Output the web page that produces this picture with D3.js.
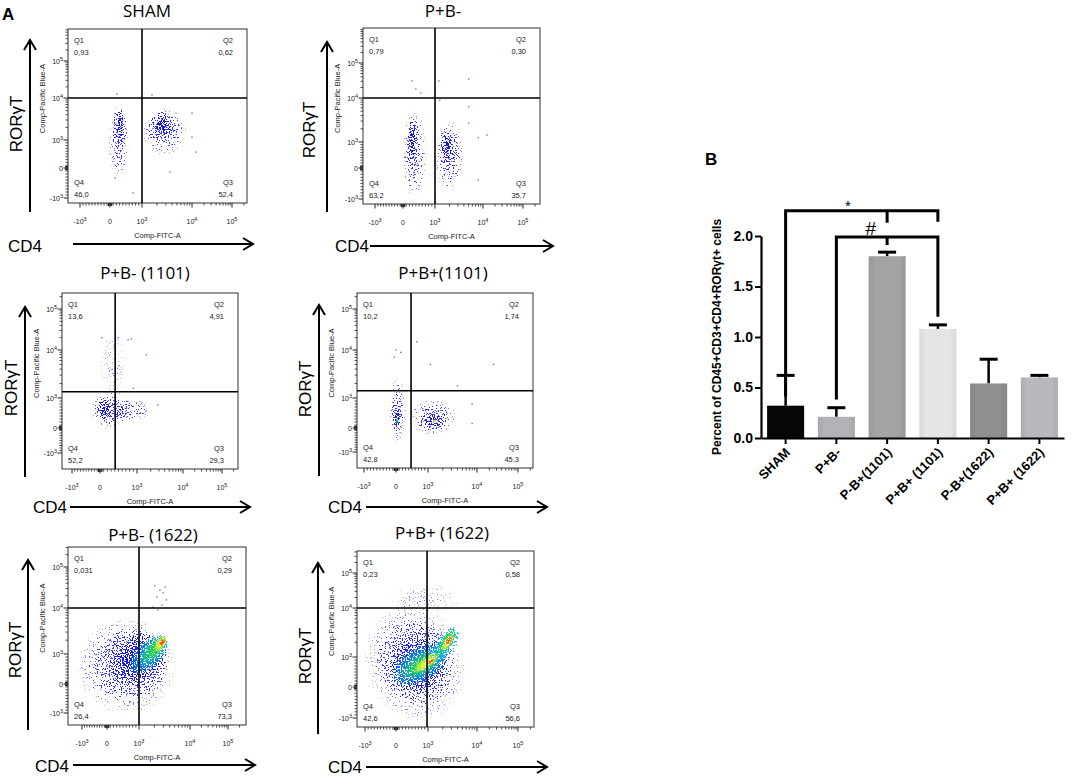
<!DOCTYPE html>
<html><head><meta charset="utf-8">
<script src="https://cdn.jsdelivr.net/npm/d3@7"></script>
<style>body{margin:0;background:#fff} svg{display:block}</style>
</head><body>
<svg id="c" width="1072" height="776"></svg>
<script>
// ================= DATA =================
// Panel B (bar chart)
const barCategories = ["SHAM", "P+B-", "P-B+(1101)", "P+B+ (1101)", "P-B+(1622)", "P+B+ (1622)"];
const barMeans      = [0.32, 0.21, 1.80, 1.08, 0.54, 0.60];
const barErrTops    = [0.62, 0.30, 1.84, 1.12, 0.78, 0.62];
const barYTicks     = [0, 0.5, 1.0, 1.5, 2.0];
const barYLabel     = "Percent of CD45+CD3+CD4+RORγt+ cells";
// significance brackets: from / mid / to categories, heights in data units
const bracketSpecs = [
  { label: "*", from: "SHAM", mid: "P-B+(1101)", to: "P+B+ (1101)", top: 2.25, fromEnd: 0.41, midEnd: 2.13, toEnd: 2.14, labelAt: 0.41, labelY: 2.31 },
  { label: "#", from: "P+B-", mid: "P-B+(1101)", to: "P+B+ (1101)", top: 1.99, fromEnd: 0.38, midEnd: 1.91, toEnd: 1.20, labelAt: 0.34, labelY: 2.07 }
];

// Panel A (flow cytometry quadrant plots)
const panelTitles = ["SHAM", "P+B-", "P+B- (1101)", "P+B+(1101)", "P+B- (1622)", "P+B+ (1622)"];
const quadQ1 = ["0,93", "0,79", "13,6", "10,2", "0,031", "0,23"];
const quadQ2 = ["0,62", "0,30", "4,91", "1,74", "0,29", "0,58"];
const quadQ3 = ["52,4", "35,7", "29,3", "45,3", "73,3", "56,6"];
const quadQ4 = ["46,0", "63,2", "52,2", "42,8", "26,4", "42,6"];
// gate positions in axis units (-1 = -10^3, 0 = 0, 1 = 10^3, 2 = 10^4, 3 = 10^5)
const gateX = [1, 1, 0.41, 0.47, 1, 0.97];
const gateY = [2, 2, 1.13, 1.15, 2, 2];
const axisUnits = [-1, 0, 1, 2, 3];
const axisTickBase = ["-10", "0", "10", "10", "10"];
const axisTickExp  = ["3", "", "3", "4", "5"];
// event clouds: [cx, cy, rx, ry, tilt, densityLevel] in axis units
const clouds = [
  [[0.28,0.9,0.32,1.05,0,0],[0.3,1.3,0.22,0.55,0,1],[0.3,1.4,0.12,0.35,0,2],
   [1.45,1.2,0.45,0.65,0,0],[1.42,1.3,0.3,0.4,0,1],[1.4,1.35,0.18,0.25,0,2]],
  [[0.35,0.55,0.38,1.35,0,0],[0.3,0.9,0.22,0.85,0,1],[0.28,1.05,0.13,0.6,0,2],
   [1.3,0.45,0.3,1.15,0,0],[1.27,0.7,0.2,0.7,0,1],[1.25,0.85,0.11,0.45,0,2]],
  [[0.3,0.6,0.6,0.6,0,0],[0.2,0.6,0.38,0.4,0,1],[0.1,0.65,0.2,0.35,0,2],
   [0.35,1.7,0.35,0.7,0,7],[0.9,0.6,0.4,0.35,0,0],[0.6,0.5,0.2,0.25,0,1]],
  [[0.05,0.6,0.27,0.95,0,0],[0.03,0.45,0.18,0.6,0,1],[0.03,0.3,0.11,0.3,0,2],[0.03,0.25,0.05,0.12,0,4],
   [1.1,0.35,0.55,0.65,0,0],[1.1,0.3,0.38,0.38,0,1],[1.12,0.25,0.22,0.22,0,2],[1.15,0.22,0.07,0.07,0,5]],
  [[0.6,0.6,1.35,1.35,0,0],[0.75,0.7,0.95,0.95,0,1],[0.95,0.85,0.7,0.7,-35,2],[1.2,1.0,0.55,0.35,-45,3],
   [1.3,1.1,0.38,0.2,-50,4],[1.42,1.22,0.18,0.1,-55,5],[1.45,1.25,0.08,0.06,-55,6]],
  [[0.6,0.8,1.3,1.6,-20,0],[0.65,0.8,1.0,1.1,-25,1],[0.7,0.75,0.8,0.75,-30,2],[0.75,0.75,0.8,0.5,-30,3],
   [0.8,0.75,0.6,0.32,-30,4],[1.35,1.25,0.45,0.2,-55,3],[1.38,1.3,0.35,0.13,-55,4],[0.95,0.8,0.4,0.18,-35,5],
   [1.4,1.3,0.2,0.08,-55,5],[1.42,1.33,0.1,0.05,-55,6],[1.05,0.85,0.1,0.05,-35,6],[0.9,2.25,0.9,0.4,0,7]]
];
// isolated events [x, y] in axis units
const outliers = [
  [[2.0,1.64],[2.0,1.07],[1.2,2.08],[0.22,2.1],[0.16,-0.33],[0.72,-0.83],[1.56,-0.13],[2.1,0.57]],
  [[0.28,2.49],[0.4,2.26],[1.08,2.49],[0.56,2.14],[1.7,2.54],[1.7,1.8],[2.1,1.16],[1.9,-0.38],[1.7,1.43],[1.1,1.95],[1.9,1.1]],
  [[1.2,1.9],[0.9,1.2],[1.45,0.77],[0.05,2.3],[0.49,2.3],[0.76,2.25],[0.85,2.27]],
  [[0,2.0],[-0.05,1.85],[0.15,1.95],[0.65,2.2],[1.05,1.7],[2.4,1.7],[1.6,1.25],[1.9,0.8],[1.9,0.15]],
  [[1.31,2.54],[1.41,2.44],[1.35,2.27],[1.47,2.37],[1.54,2.2],[1.45,2.07],[1.57,2.0],[1.37,1.96],[1.51,2.51],[1.27,2.02]],
  []
];

// ================= STYLE / LAYOUT =================
const barColors = ["#060606", "#b3b3b7", "#a3a3a3", "#e5e5e7", "#8f8f8f", "#b9b9bd"];
const levelColors = ["#3a3aff", "#2626f2", "#0000d0", "#00c8ff", "#28dc28", "#ffff1e", "#ff2a00", "#4a4aff"];
const levelAlpha  = [0.3, 0.34, 0.42, 0.8, 0.9, 1, 1, 0.14];
const flowLayout = [
  {frame:[68,29,247,203],  xr:[12,42,74,124,164], yr:[5,35,63,105,142],  title:[147,17],  rArrow:[30,40,212],  rText:[22,124], cd4:[8,252],  hArrow:[73,253,244]},
  {frame:[363,28,540,204], xr:[12,40,72,120,160], yr:[5,36,62,106,141],  title:[443,17],  rArrow:[327,42,212], rText:[315,130], cd4:[335,252], hArrow:[370,553,246]},
  {frame:[62,293,238,469], xr:[10,38,75,121,160], yr:[16,41,71,119,160], title:[145,279], rArrow:[25,307,477], rText:[17,388], cd4:[33,513], hArrow:[70,250,507]},
  {frame:[357,293,533,468],xr:[7,39,71,120,161],  yr:[16,40,70,118,159], title:[443,279], rArrow:[319,305,476],rText:[311,389], cd4:[328,513], hArrow:[366,547,507]},
  {frame:[68,547,246,725], xr:[14,39,71,122,160], yr:[12,41,71,117,158], title:[153,541], rArrow:[28,560,730], rText:[21,650], cd4:[35,772], hArrow:[73,255,765]},
  {frame:[357,551,534,727],xr:[8,39,71,120,161],  yr:[9,40,70,119,154],  title:[442,539], rArrow:[318,563,734],rText:[311,656], cd4:[328,773], hArrow:[366,547,767]}
];

const svg = d3.select("#c");
const defs = svg.append("defs");

// speckle filter: turns smooth density into scattered event dots
const flt = defs.append("filter").attr("id","speck").attr("x","-5%").attr("y","-5%")
  .attr("width","110%").attr("height","110%").attr("color-interpolation-filters","sRGB");
flt.append("feTurbulence").attr("type","fractalNoise").attr("baseFrequency",0.75).attr("numOctaves",1).attr("seed",5).attr("result","noise");
flt.append("feColorMatrix").attr("in","noise").attr("type","matrix")
  .attr("values","0 0 0 0 0  0 0 0 0 0  0 0 0 0 0  1 0 0 0 0").attr("result","na");
flt.append("feComposite").attr("in","SourceAlpha").attr("in2","na").attr("operator","arithmetic")
  .attr("k1",0).attr("k2",0.3).attr("k3",1).attr("k4",-0.675).attr("result","sum");
flt.append("feComponentTransfer").attr("in","sum").attr("result","th")
  .append("feFuncA").attr("type","linear").attr("slope",30).attr("intercept",0);
flt.append("feComposite").attr("in","SourceGraphic").attr("in2","th").attr("operator","in").attr("result","dots");
flt.append("feComponentTransfer").attr("in","dots")
  .append("feFuncA").attr("type","linear").attr("slope",6);

levelColors.forEach((c, i) => {
  const g = defs.append("radialGradient").attr("id","lv"+i);
  g.append("stop").attr("offset","0%").attr("stop-color",c).attr("stop-opacity",levelAlpha[i]);
  g.append("stop").attr("offset","50%").attr("stop-color",c).attr("stop-opacity",levelAlpha[i]*0.72);
  g.append("stop").attr("offset","85%").attr("stop-color",c).attr("stop-opacity",levelAlpha[i]*0.35);
  g.append("stop").attr("offset","100%").attr("stop-color",c).attr("stop-opacity",levelAlpha[i]*0.1);
});

const sans = "'Liberation Sans', Arial, sans-serif";

// ---- "A" label ----
svg.append("text").attr("x",2).attr("y",20).attr("font-family",sans).attr("font-weight","bold")
  .attr("font-size",17).text("A");

function arrowH(g, x1, x2, y) {
  g.append("line").attr("x1",x1).attr("x2",x2).attr("y1",y).attr("y2",y).attr("stroke","#000").attr("stroke-width",2);
  g.append("polyline").attr("points",`${x2-10},${y-6} ${x2},${y} ${x2-10},${y+6}`)
    .attr("fill","none").attr("stroke","#000").attr("stroke-width",2);
}
function arrowV(g, x, y1, y2) {
  g.append("line").attr("x1",x).attr("x2",x).attr("y1",y1).attr("y2",y2).attr("stroke","#000").attr("stroke-width",2);
  g.append("polyline").attr("points",`${x-6},${y1+10} ${x},${y1} ${x+6},${y1+10}`)
    .attr("fill","none").attr("stroke","#000").attr("stroke-width",2);
}
function tickLabel(sel, i) {
  sel.append("tspan").text(axisTickBase[i]);
  if (axisTickExp[i]) sel.append("tspan").attr("dy",-3.5).attr("font-size",5.5).text(axisTickExp[i]);
}

flowLayout.forEach((lay, p) => {
  const [L, T, R, B] = lay.frame;
  const g = svg.append("g");
  const x = d3.scaleLinear().domain(axisUnits).range(lay.xr.map(v => L + v));
  const y = d3.scaleLinear().domain(axisUnits).range(lay.yr.map(v => B - v));

  const clipId = "clip" + p;
  defs.append("clipPath").attr("id", clipId).append("rect")
    .attr("x", L).attr("y", T).attr("width", R - L).attr("height", B - T);

  // event clouds
  const cg = g.append("g").attr("clip-path", `url(#${clipId})`);
  const dg = cg.append("g").attr("filter","url(#speck)");
  clouds[p].forEach(([cx, cy, rx, ry, tilt, lv]) => {
    const px = x(cx), py = y(cy);
    const rpx = Math.abs(x(cx + rx) - x(cx - rx)) / 2;
    const rpy = Math.abs(y(cy + ry) - y(cy - ry)) / 2;
    dg.append("ellipse").attr("cx", 0).attr("cy", 0).attr("rx", rpx).attr("ry", rpy)
      .attr("transform", `translate(${px},${py}) rotate(${tilt})`)
      .attr("fill", `url(#lv${lv})`);
  });
  cg.selectAll("rect.ev").data(outliers[p]).join("rect").attr("class","ev")
    .attr("x", d => x(d[0]) - 0.7).attr("y", d => y(d[1]) - 0.7)
    .attr("width", 1.4).attr("height", 1.4).attr("fill", "#7070ee");

  // frame
  g.append("rect").attr("x", L).attr("y", T).attr("width", R - L).attr("height", B - T)
    .attr("fill", "none").attr("stroke", "#333").attr("stroke-width", 1);
  // gates
  g.append("line").attr("x1", x(gateX[p])).attr("x2", x(gateX[p])).attr("y1", T).attr("y2", B)
    .attr("stroke", "#000").attr("stroke-width", 1.6);
  g.append("line").attr("x1", L).attr("x2", R).attr("y1", y(gateY[p])).attr("y2", y(gateY[p]))
    .attr("stroke", "#000").attr("stroke-width", 1.6);

  // minor ticks
  const minors = [];
  for (let v = -9; v <= 9; v++) if (v !== 0) minors.push(v / 10);
  for (let d = 1; d <= 3; d++) for (let m = 2; m <= 9; m++) minors.push(d + Math.log10(m));
  const nearZero = [-0.05, 0, 0.05];
  const tk = g.append("g").attr("stroke", "#222");
  minors.forEach(u => {
    const xx = x(u); if (xx > L && xx < R)
      tk.append("line").attr("x1", xx).attr("x2", xx).attr("y1", B).attr("y2", B + 2.5).attr("stroke-width", 0.8);
    const yy = y(u); if (yy > T && yy < B)
      tk.append("line").attr("x1", L).attr("x2", L - 2.5).attr("y1", yy).attr("y2", yy).attr("stroke-width", 0.8);
  });
  nearZero.forEach(u => {
    tk.append("line").attr("x1", x(u)).attr("x2", x(u)).attr("y1", B).attr("y2", B + 3).attr("stroke-width", 1.3);
    tk.append("line").attr("x1", L).attr("x2", L - 3).attr("y1", y(u)).attr("y2", y(u)).attr("stroke-width", 1.3);
  });
  axisUnits.forEach((u, i) => {
    tk.append("line").attr("x1", x(u)).attr("x2", x(u)).attr("y1", B).attr("y2", B + 4.5).attr("stroke-width", 1);
    tk.append("line").attr("x1", L).attr("x2", L - 4.5).attr("y1", y(u)).attr("y2", y(u)).attr("stroke-width", 1);
    tickLabel(g.append("text").attr("x", x(u)).attr("y", B + 21).attr("text-anchor", "middle")
      .attr("font-family", sans).attr("font-size", 7).attr("fill", "#222"), i);
    tickLabel(g.append("text").attr("x", L - 5).attr("y", y(u) + 3).attr("text-anchor", "end")
      .attr("font-family", sans).attr("font-size", 7).attr("fill", "#222"), i);
  });

  // axis titles (small)
  g.append("text").attr("x", (L + R) / 2).attr("y", B + 35).attr("text-anchor", "middle")
    .attr("font-family", sans).attr("font-size", 7.5).attr("fill", "#222").text("Comp-FITC-A");
  g.append("text").attr("transform", `translate(${L - 23},${T + (B - T) * 0.4}) rotate(-90)`)
    .attr("text-anchor", "middle").attr("font-family", sans).attr("font-size", 7.5).attr("fill", "#222")
    .text("Comp-Pacific Blue-A");

  // quadrant labels
  const ql = (tx, ty, anchor, s) => g.append("text").attr("x", tx).attr("y", ty).attr("text-anchor", anchor)
    .attr("font-family", sans).attr("font-size", 7.5).attr("fill", "#222").text(s);
  ql(L + 6, T + 14, "start", "Q1"); ql(L + 6, T + 26, "start", quadQ1[p]);
  ql(R - 14, T + 14, "end", "Q2"); ql(R - 14, T + 26, "end", quadQ2[p]);
  ql(L + 6, B - 18, "start", "Q4"); ql(L + 6, B - 6, "start", quadQ4[p]);
  ql(R - 14, B - 18, "end", "Q3"); ql(R - 14, B - 6, "end", quadQ3[p]);

  // title
  g.append("text").attr("x", lay.title[0]).attr("y", lay.title[1]).attr("text-anchor", "middle")
    .attr("font-family", "'Open Sans', sans-serif").attr("font-size", 17).text(panelTitles[p]);
  // big axis arrows + labels
  arrowV(g, lay.rArrow[0], lay.rArrow[1], lay.rArrow[2]);
  g.append("text").attr("transform", `translate(${lay.rText[0]},${lay.rText[1]}) rotate(-90)`)
    .attr("text-anchor", "middle").attr("font-family", sans).attr("font-size", 17).text("RORγT");
  g.append("text").attr("x", lay.cd4[0]).attr("y", lay.cd4[1]).attr("font-family", sans)
    .attr("font-size", 17).text("CD4");
  arrowH(g, lay.hArrow[0], lay.hArrow[1], lay.hArrow[2]);
});

// ================= PANEL B =================
const gb = svg.append("g");
gb.append("text").attr("x", 705).attr("y", 165).attr("font-family", sans).attr("font-weight", "bold")
  .attr("font-size", 17).text("B");

const xB = d3.scaleBand().domain(barCategories).range([761, 1064]).paddingInner(0.27).paddingOuter(0.12);
const yB = d3.scaleLinear().domain([0, 2]).range([438, 236]);

barColors.forEach((c, i) => {
  const lg = defs.append("linearGradient").attr("id", "bar" + i).attr("x1", 0).attr("x2", 1).attr("y1", 0).attr("y2", 0);
  const dk = d3.color(c).darker(i === 0 ? 0 : 0.18).formatHex();
  lg.append("stop").attr("offset", "0%").attr("stop-color", dk);
  lg.append("stop").attr("offset", "18%").attr("stop-color", c);
  lg.append("stop").attr("offset", "82%").attr("stop-color", c);
  lg.append("stop").attr("offset", "100%").attr("stop-color", dk);
});

// error bars (upper only)
barCategories.forEach((c, i) => {
  const cx = xB(c) + xB.bandwidth() / 2;
  gb.append("line").attr("x1", cx).attr("x2", cx).attr("y1", yB(barMeans[i])).attr("y2", yB(barErrTops[i]))
    .attr("stroke", "#000").attr("stroke-width", 2.5);
  gb.append("line").attr("x1", cx - 9).attr("x2", cx + 9).attr("y1", yB(barErrTops[i])).attr("y2", yB(barErrTops[i]))
    .attr("stroke", "#000").attr("stroke-width", 3);
});
gb.selectAll("rect.bar").data(barCategories).join("rect").attr("class", "bar")
  .attr("x", d => xB(d)).attr("width", xB.bandwidth())
  .attr("y", (d, i) => yB(barMeans[i])).attr("height", (d, i) => yB(0) - yB(barMeans[i]))
  .attr("fill", (d, i) => `url(#bar${i})`);

// axes
const yAx = gb.append("g").attr("transform", "translate(761,0)")
  .call(d3.axisLeft(yB).tickValues(barYTicks).tickFormat(d3.format(".1f")).tickSize(6).tickSizeOuter(0));
const xAx = gb.append("g").attr("transform", "translate(0,438)")
  .call(d3.axisBottom(xB).tickSize(6).tickSizeOuter(0));
[yAx, xAx].forEach(a => {
  a.select(".domain").attr("stroke", "#000").attr("stroke-width", 2.2);
  a.selectAll(".tick line").attr("stroke", "#000").attr("stroke-width", 2);
  a.selectAll("text").attr("font-family", sans).attr("font-weight", "bold").attr("fill", "#000");
});
yAx.selectAll("text").attr("font-size", 14).attr("x", -8);
xAx.selectAll("text").attr("font-size", 13).attr("text-anchor", "end")
  .attr("x", -7).attr("y", 10).attr("dy", "0.35em").attr("transform", "rotate(-45)");

gb.append("text").attr("transform", "translate(721,337) rotate(-90)").attr("text-anchor", "middle")
  .attr("font-family", sans).attr("font-weight", "bold").attr("font-size", 12).text(barYLabel);

// significance brackets
bracketSpecs.forEach(b => {
  const cx = k => xB(k) + xB.bandwidth() / 2;
  const x1 = cx(b.from), xm = cx(b.mid), x2 = cx(b.to);
  const path = d3.path();
  path.moveTo(x1, yB(b.fromEnd)); path.lineTo(x1, yB(b.top)); path.lineTo(x2, yB(b.top)); path.lineTo(x2, yB(b.toEnd));
  path.moveTo(xm, yB(b.top)); path.lineTo(xm, yB(b.midEnd));
  gb.append("path").attr("d", path.toString()).attr("fill", "none").attr("stroke", "#000").attr("stroke-width", 3);
  gb.append("text").attr("x", x1 + (x2 - x1) * b.labelAt).attr("y", yB(b.labelY) + 6)
    .attr("text-anchor", "middle").attr("font-family", sans).attr("font-size", b.label === "#" ? 19 : 15)
    .text(b.label);
});
</script>
</body></html>
